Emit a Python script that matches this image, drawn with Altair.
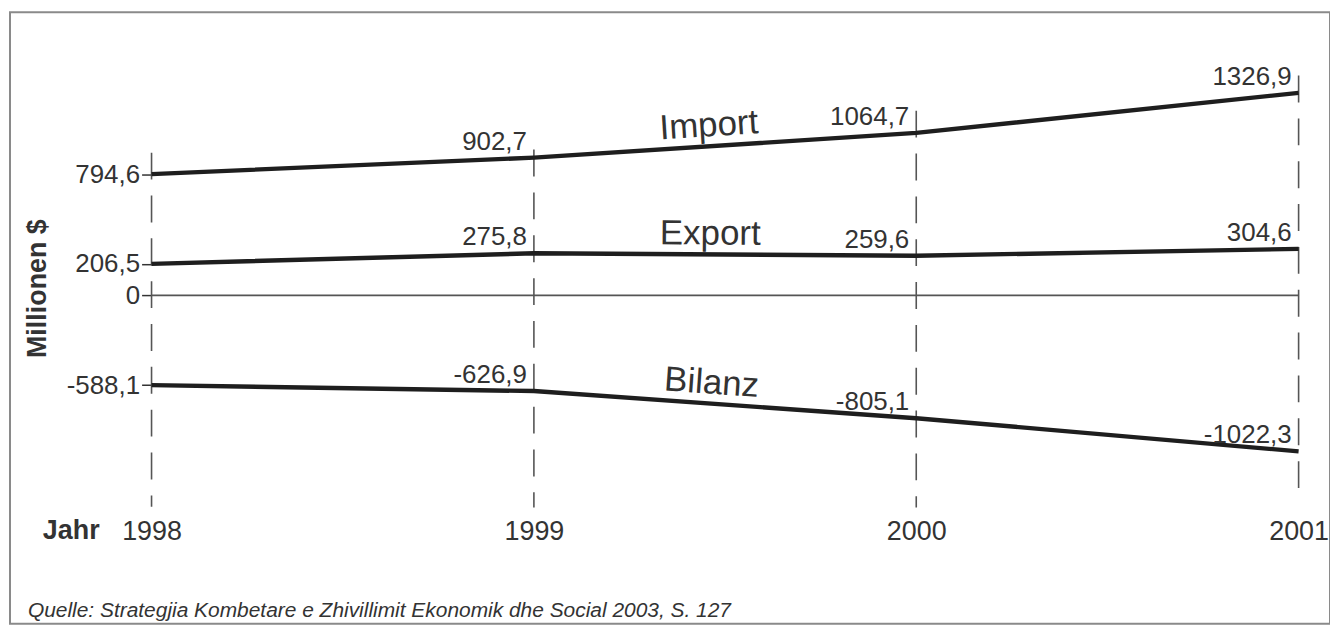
import math
import altair as alt
import pandas as pd

# ---------------- data ----------------
years = [1998, 1999, 2000, 2001]
import_vals = [794.6, 902.7, 1064.7, 1326.9]
export_vals = [206.5, 275.8, 259.6, 304.6]
bilanz_vals = [-588.1, -626.9, -805.1, -1022.3]
series_names = ["Import", "Export", "Bilanz"]
axis_ticks = [794.6, 206.5, 0, -588.1]
guide_top = [935, 955, 1210, 1440]      # upper end of the dashed year guides (data units)
guide_bottom = [-1385, -1390, -1390, -1295]
source_text = "Quelle: Strategjia Kombetare e Zhivillimit Ekonomik dhe Social 2003, S. 127"

# ---------------- layout constants ----------------
FONT = "Liberation Sans"
TXT = "#333333"
W, H = 1325, 614
X_DOMAIN = [1997.6298, 2001.0821]
Y_DOMAIN = [-2152.1, 1855.7]
PX_PER_YEAR = W / (X_DOMAIN[1] - X_DOMAIN[0])
PX_PER_UNIT = H / (Y_DOMAIN[1] - Y_DOMAIN[0])


def fmt(v):
    return f"{v:.1f}".replace(".", ",")


series_vals = {"Import": import_vals, "Export": export_vals, "Bilanz": bilanz_vals}

rows = []
for s in series_names:
    for y, v in zip(years, series_vals[s]):
        rows.append({"series": s, "year": y, "value": v, "label": fmt(v)})
df = pd.DataFrame(rows)

guides = pd.DataFrame({"year": years, "top": guide_top, "bottom": guide_bottom})
zero_df = pd.DataFrame({"x1": [years[0]], "x2": [years[-1]], "y": [0]})

name_rows = []
for s in series_names:
    v1, v2 = series_vals[s][1], series_vals[s][2]
    ang = math.degrees(math.atan2(-(v2 - v1) * PX_PER_UNIT, PX_PER_YEAR))
    name_rows.append({"series": s, "x": (years[1] + years[2]) / 2,
                      "y": (v1 + v2) / 2, "angle": ang % 360})
names_df = pd.DataFrame(name_rows)

xscale = alt.Scale(domain=X_DOMAIN, nice=False, zero=False)
yscale = alt.Scale(domain=Y_DOMAIN, nice=False, zero=False)

label_expr = ("datum.value == 0 ? '0' : "
              "replace(replace(format(datum.value, '.1f'), '.', ','), '\u2212', '-')")

yaxis = alt.Axis(values=axis_ticks, offset=-142.1, domain=False, grid=False,
                 tickSize=10, tickWidth=1.5, tickColor=TXT,
                 labelFont=FONT, labelFontSize=26, labelColor=TXT, labelPadding=2,
                 labelExpr=label_expr, labelFlush=False, labelOverlap=False,
                 labelBaseline="middle",
                 title="Millionen $", titleFont=FONT, titleFontSize=27,
                 titleFontWeight="bold", titleColor=TXT, titleAngle=270,
                 titleX=-114, titleY=277, titleAlign="center",
                 titleBaseline="middle")

xaxis = alt.Axis(values=years, format="d", offset=-117, domain=False, grid=False,
                 ticks=False, tickSize=0, labelFont=FONT, labelFontSize=27,
                 labelColor=TXT, labelPadding=11, labelBaseline="top",
                 labelFlush=False, labelOverlap=False,
                 title="Jahr", titleFont=FONT, titleFontSize=27,
                 titleFontWeight="bold", titleColor=TXT, titleX=61, titleY=10,
                 titleAlign="center", titleBaseline="top")

X = lambda f: alt.X(f, type="quantitative", scale=xscale, axis=xaxis)
Y = lambda f: alt.Y(f, type="quantitative", scale=yscale, axis=yaxis)

guide_layer = alt.Chart(guides).mark_rule(
    color="#555555", strokeWidth=1.6, strokeDash=[27, 16]
).encode(x=X("year"), y=Y("top"), y2="bottom")

zero_layer = alt.Chart(zero_df).mark_rule(color="#555555", strokeWidth=2).encode(
    x=X("x1"), x2="x2", y=Y("y"))

line_layer = alt.Chart(df).mark_line(color="#1e1e1e", strokeWidth=4.4).encode(
    x=X("year"), y=Y("value"), detail="series:N")

value_layer = alt.Chart(df).transform_filter(f"datum.year > {years[0]}").mark_text(
    align="right", baseline="alphabetic", dx=-7, dy=-8,
    font=FONT, fontSize=26, color=TXT
).encode(x=X("year"), y=Y("value"), text="label:N")

name_layer = alt.Chart(names_df).mark_text(
    align="center", baseline="middle", dx=-15, dy=-21,
    font=FONT, fontSize=35, color=TXT
).encode(x=X("x"), y=Y("y"), text="series:N",
         angle=alt.Angle("angle:Q", scale=None))

chart = alt.layer(
    guide_layer, zero_layer, line_layer, value_layer, name_layer
).properties(
    width=W, height=H,
    autosize="none",
    padding={"left": 2, "top": 3, "right": 0, "bottom": 0},
    background="white",
    title=alt.TitleParams(text=source_text, orient="bottom", anchor="start",
                          frame="group", font=FONT, fontSize=21,
                          fontStyle="italic", fontWeight="normal", color=TXT,
                          offset=0, dx=18, dy=-24),
).configure_view(stroke="#8a8a8a", strokeWidth=2)

chart.save("out.html", embed_options={"renderer": "svg", "actions": False})
